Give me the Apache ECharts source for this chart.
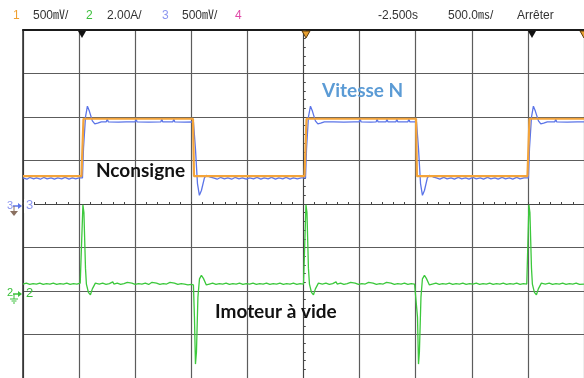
<!DOCTYPE html>
<html><head><meta charset="utf-8">
<script src="https://cdn.jsdelivr.net/npm/echarts@6/dist/echarts.min.js"></script>
<style>html,body{margin:0;padding:0;background:#fff}#c{width:584px;height:378px}</style>
</head><body><div id="c"></div>
<script>
// Time axis: 500 ms/div, delay -2.500 s -> screen spans -5.0 s .. 0 s
const timeRange = [-5, 0];
// Vertical axis in screen divisions, 0 = centre line
const divRange = [-4, 4];
// Horizontal graticule in divisions about the screen centre (for the centre tick rulers)
const hDivRange = [-5, 5];

const headerTexts = ['1', '500\u33B7/', '2', '2.00A/', '3', '500\u33B7/', '4', '-2.500s', '500.0\u33B3/', 'Arr\u00EAter'];
const annotations = ['Vitesse N', 'Nconsigne', 'Imoteur \u00E0 vide'];
const channelMarks = ['3', '2'];

// Channel 1 (orange) : speed set-point Nconsigne  [s, div]
const orangeTrace = [
  [-5.000,0.64],[-4.479,0.64],[-4.461,1.96],[-3.485,1.96],[-3.476,0.64],
  [-2.491,0.64],[-2.473,1.96],[-1.497,1.96],[-1.489,0.64],
  [-0.504,0.64],[-0.486,1.96],[0.000,1.96]
];

// Channel 3 (blue) : measured speed N  [s, div]
const blueTrace = [
  [-5.000,0.60],[-4.965,0.57],[-4.940,0.61],[-4.905,0.58],[-4.880,0.60],[-4.845,0.57],[-4.815,0.61],[-4.785,0.58],
  [-4.750,0.60],[-4.720,0.57],[-4.690,0.60],[-4.655,0.58],[-4.625,0.61],[-4.590,0.57],[-4.560,0.60],[-4.530,0.58],
  [-4.500,0.60],[-4.470,0.60],
  [-4.461,1.27],[-4.443,2.00],[-4.426,2.25],[-4.408,2.13],[-4.382,1.91],[-4.360,1.84],[-4.335,1.86],[-4.302,1.89],
  [-4.258,1.89],[-4.249,1.95],[-4.240,1.89],[-4.150,1.88],[-4.080,1.89],[-4.000,1.89],[-3.992,1.95],[-3.984,1.89],
  [-3.880,1.88],[-3.771,1.89],[-3.763,1.95],[-3.755,1.89],[-3.664,1.89],[-3.656,1.95],[-3.648,1.89],[-3.560,1.88],
  [-3.481,1.89],
  [-3.463,1.27],[-3.445,0.47],[-3.428,0.20],[-3.410,0.31],[-3.383,0.60],[-3.366,0.66],[-3.330,0.62],[-3.304,0.60],
  [-3.270,0.57],[-3.240,0.61],[-3.205,0.58],[-3.175,0.60],[-3.140,0.57],[-3.110,0.61],[-3.075,0.58],[-3.045,0.60],
  [-3.010,0.57],[-2.980,0.60],[-2.945,0.58],[-2.915,0.61],[-2.880,0.57],[-2.850,0.60],[-2.815,0.58],[-2.785,0.61],
  [-2.750,0.57],[-2.720,0.60],[-2.685,0.58],[-2.655,0.61],[-2.620,0.57],[-2.590,0.60],[-2.555,0.58],[-2.520,0.60],
  [-2.482,0.60],
  [-2.473,1.27],[-2.456,2.00],[-2.438,2.25],[-2.420,2.13],[-2.394,1.91],[-2.372,1.84],[-2.347,1.86],[-2.314,1.89],
  [-2.230,1.89],[-2.140,1.88],[-2.050,1.89],[-2.003,1.89],[-1.995,1.95],[-1.987,1.89],[-1.900,1.88],[-1.852,1.89],
  [-1.844,1.95],[-1.836,1.89],[-1.764,1.89],[-1.756,1.95],[-1.748,1.89],[-1.676,1.89],[-1.668,1.95],[-1.660,1.89],
  [-1.569,1.89],[-1.561,1.95],[-1.553,1.89],[-1.493,1.89],
  [-1.475,1.27],[-1.457,0.47],[-1.440,0.20],[-1.422,0.31],[-1.396,0.60],[-1.378,0.66],[-1.343,0.62],[-1.316,0.60],
  [-1.285,0.57],[-1.250,0.61],[-1.220,0.58],[-1.185,0.60],[-1.155,0.57],[-1.120,0.61],[-1.090,0.58],[-1.055,0.60],
  [-1.025,0.57],[-0.990,0.61],[-0.960,0.58],[-0.925,0.60],[-0.895,0.57],[-0.860,0.61],[-0.830,0.58],[-0.795,0.60],
  [-0.765,0.57],[-0.730,0.61],[-0.700,0.58],[-0.665,0.60],[-0.635,0.57],[-0.600,0.61],[-0.570,0.58],[-0.535,0.60],
  [-0.495,0.60],
  [-0.486,1.27],[-0.468,2.00],[-0.451,2.25],[-0.433,2.13],[-0.406,1.91],[-0.385,1.84],[-0.360,1.86],[-0.327,1.89],
  [-0.260,1.89],[-0.252,1.95],[-0.244,1.89],[-0.150,1.88],[-0.060,1.89],[0.000,1.89]
];

// Channel 2 (green) : motor current Imoteur (no load)  [s, div]
const greenTrace = [
  [-5.000,-1.84],[-4.970,-1.82],[-4.940,-1.85],[-4.910,-1.83],[-4.880,-1.84],[-4.850,-1.82],[-4.820,-1.85],[-4.790,-1.83],
  [-4.760,-1.84],[-4.730,-1.82],[-4.700,-1.85],[-4.670,-1.83],[-4.640,-1.84],[-4.610,-1.82],[-4.580,-1.85],[-4.550,-1.83],
  [-4.520,-1.84],[-4.490,-1.82],[-4.474,-1.84],
  [-4.466,-0.02],[-4.457,-0.20],[-4.443,-1.48],[-4.435,-1.84],[-4.417,-2.03],[-4.399,-2.09],[-4.382,-1.95],[-4.355,-1.82],[-4.320,-1.84],
  [-4.290,-1.82],[-4.260,-1.85],[-4.230,-1.83],[-4.200,-1.79],[-4.190,-1.84],[-4.160,-1.82],[-4.130,-1.85],[-4.100,-1.83],
  [-4.070,-1.80],[-4.060,-1.84],[-4.030,-1.82],[-4.000,-1.85],[-3.970,-1.83],[-3.940,-1.84],[-3.910,-1.82],[-3.880,-1.85],
  [-3.850,-1.80],[-3.840,-1.84],[-3.810,-1.82],[-3.780,-1.85],[-3.750,-1.83],[-3.720,-1.84],[-3.690,-1.80],[-3.680,-1.84],
  [-3.650,-1.82],[-3.620,-1.85],[-3.590,-1.83],[-3.560,-1.84],[-3.530,-1.86],[-3.500,-1.85],[-3.481,-1.86],
  [-3.472,-2.60],[-3.463,-3.68],[-3.454,-3.40],[-3.441,-2.14],[-3.427,-1.72],[-3.410,-1.64],[-3.392,-1.71],[-3.366,-1.86],[-3.339,-1.84],
  [-3.310,-1.82],[-3.280,-1.85],[-3.250,-1.83],[-3.220,-1.84],[-3.190,-1.82],[-3.160,-1.85],[-3.130,-1.83],[-3.100,-1.84],
  [-3.070,-1.82],[-3.040,-1.85],[-3.010,-1.83],[-2.980,-1.84],[-2.950,-1.82],[-2.920,-1.85],[-2.890,-1.83],[-2.860,-1.84],
  [-2.830,-1.82],[-2.800,-1.85],[-2.770,-1.83],[-2.740,-1.84],[-2.710,-1.82],[-2.680,-1.85],[-2.650,-1.83],[-2.620,-1.84],
  [-2.590,-1.82],[-2.560,-1.85],[-2.530,-1.83],[-2.500,-1.84],[-2.486,-1.84],
  [-2.478,-0.02],[-2.469,-0.20],[-2.456,-1.48],[-2.447,-1.84],[-2.429,-2.03],[-2.411,-2.09],[-2.394,-1.95],[-2.367,-1.82],[-2.332,-1.84],
  [-2.300,-1.82],[-2.270,-1.85],[-2.240,-1.83],[-2.210,-1.79],[-2.200,-1.84],[-2.170,-1.82],[-2.140,-1.85],[-2.110,-1.83],
  [-2.080,-1.80],[-2.070,-1.84],[-2.040,-1.82],[-2.010,-1.85],[-1.980,-1.83],[-1.950,-1.84],[-1.920,-1.80],[-1.910,-1.84],
  [-1.880,-1.82],[-1.850,-1.85],[-1.820,-1.83],[-1.790,-1.84],[-1.760,-1.80],[-1.750,-1.84],[-1.720,-1.82],[-1.690,-1.85],
  [-1.660,-1.83],[-1.630,-1.84],[-1.600,-1.82],[-1.570,-1.85],[-1.540,-1.83],[-1.510,-1.84],[-1.493,-1.84],
  [-1.484,-2.60],[-1.475,-3.68],[-1.467,-3.40],[-1.453,-2.14],[-1.440,-1.72],[-1.422,-1.64],[-1.405,-1.71],[-1.378,-1.86],[-1.352,-1.84],
  [-1.320,-1.82],[-1.290,-1.85],[-1.260,-1.83],[-1.230,-1.84],[-1.200,-1.82],[-1.170,-1.85],[-1.140,-1.83],[-1.110,-1.84],
  [-1.080,-1.82],[-1.050,-1.85],[-1.020,-1.83],[-0.990,-1.84],[-0.960,-1.82],[-0.930,-1.85],[-0.900,-1.83],[-0.870,-1.84],
  [-0.840,-1.82],[-0.810,-1.85],[-0.780,-1.83],[-0.750,-1.84],[-0.720,-1.82],[-0.690,-1.85],[-0.660,-1.83],[-0.630,-1.84],
  [-0.600,-1.82],[-0.570,-1.85],[-0.540,-1.83],[-0.510,-1.84],[-0.499,-1.84],
  [-0.491,-0.02],[-0.482,-0.20],[-0.468,-1.48],[-0.460,-1.84],[-0.442,-2.03],[-0.424,-2.09],[-0.407,-1.95],[-0.380,-1.82],[-0.345,-1.84],
  [-0.310,-1.82],[-0.280,-1.85],[-0.250,-1.83],[-0.220,-1.84],[-0.190,-1.82],[-0.160,-1.85],[-0.130,-1.83],[-0.100,-1.84],
  [-0.070,-1.82],[-0.040,-1.85],[0.000,-1.84]
];

const chart = echarts.init(document.getElementById('c'), null, {renderer: 'canvas'});

const GRID = {left: 23, top: 30, width: 566, height: 352};
const gridCol = '#5c5c5c';
const hdrFont = "'Liberation Sans', 'DejaVu Sans', 'Noto Sans CJK SC', sans-serif";
const annFont = "Lato, 'Open Sans', sans-serif";
const rulerCol = '#444';

function ruler(dim, inside) {
  const range = dim === 'x' ? hDivRange : divRange;
  return {
    type: 'value', gridIndex: 1, min: range[0], max: range[1], interval: 1,
    axisLine: {show: true, onZero: true, lineStyle: {color: rulerCol, width: 1}},
    axisTick: {show: true, inside: inside, length: 2, lineStyle: {color: rulerCol}},
    minorTick: {show: true, splitNumber: 5, length: 2, lineStyle: {color: rulerCol}},
    axisLabel: {show: false}, splitLine: {show: false}
  };
}

const hdrColors = ['#f0a030', '#333', '#3cc03c', '#333', '#8c96f0', '#333', '#e04aa8', '#333', '#333', '#333'];
const hdrX = [13, 33, 86, 107, 162, 182, 235, 378, 448, 517];
const headerGraphics = headerTexts.map((t, i) => ({
  type: 'text', left: hdrX[i], top: 10,
  style: {text: t, fill: hdrColors[i], font: '12px ' + hdrFont}
}));

const annPos = [[322, 81, '#5b9bd5'], [96, 161, '#111'], [215, 302, '#111']];
const annGraphics = annotations.map((t, i) => ({
  type: 'text', left: annPos[i][0], top: annPos[i][1], z: 20,
  style: {text: t, fill: annPos[i][2], font: 'bold 19px ' + annFont}
}));

const markerGraphics = [
  {type: 'polygon', shape: {points: [[78, 31], [86, 31], [82, 38]]}, style: {fill: '#111'}, z: 30},
  {type: 'polygon', shape: {points: [[302, 31], [310, 31], [306, 38]]}, style: {fill: '#e8a030', stroke: '#5a3c10', lineWidth: 1}, z: 30},
  {type: 'polygon', shape: {points: [[528, 31], [536, 31], [532, 38]]}, style: {fill: '#111'}, z: 30},
  {type: 'polygon', shape: {points: [[580, 31], [588, 31], [584, 38]]}, style: {fill: '#e8a030', stroke: '#5a3c10', lineWidth: 1}, z: 30},
  {type: 'rect', shape: {x: 5, y: 199, width: 17, height: 20}, style: {fill: '#fff'}, z: 29},
  {type: 'text', left: 7, top: 200, style: {text: channelMarks[0], fill: '#8c96f0', font: '11px ' + hdrFont}, z: 30},
  {type: 'line', shape: {x1: 13, y1: 206, x2: 19, y2: 206}, style: {stroke: '#5b74e8', lineWidth: 1.5}, z: 30},
  {type: 'polygon', shape: {points: [[18, 203], [22, 206], [18, 209]]}, style: {fill: '#5b74e8'}, z: 30},
  {type: 'line', shape: {x1: 14, y1: 206, x2: 14, y2: 211}, style: {stroke: '#8a7060', lineWidth: 1}, z: 30},
  {type: 'polygon', shape: {points: [[10, 211], [18, 211], [14, 216]]}, style: {fill: '#8a7060'}, z: 30},
  {type: 'rect', shape: {x: 24, y: 199, width: 10, height: 14}, style: {fill: '#fff'}, z: 29},
  {type: 'text', left: 26, top: 199, style: {text: channelMarks[0], fill: '#8c96f0', font: '13px ' + hdrFont}, z: 30},
  {type: 'text', left: 7, top: 287, style: {text: channelMarks[1], fill: '#3cc03c', font: '11px ' + hdrFont}, z: 30},
  {type: 'line', shape: {x1: 13, y1: 294, x2: 19, y2: 294}, style: {stroke: '#3cc03c', lineWidth: 1.5}, z: 30},
  {type: 'polygon', shape: {points: [[18, 291], [22, 294], [18, 297]]}, style: {fill: '#3cc03c'}, z: 30},
  {type: 'line', shape: {x1: 14, y1: 294, x2: 14, y2: 299}, style: {stroke: '#3cc03c', lineWidth: 1}, z: 30},
  {type: 'line', shape: {x1: 10, y1: 299, x2: 18, y2: 299}, style: {stroke: '#3cc03c', lineWidth: 1}, z: 30},
  {type: 'line', shape: {x1: 11.5, y1: 301, x2: 16.5, y2: 301}, style: {stroke: '#3cc03c', lineWidth: 1}, z: 30},
  {type: 'line', shape: {x1: 13, y1: 303, x2: 15, y2: 303}, style: {stroke: '#3cc03c', lineWidth: 1}, z: 30},
  {type: 'text', left: 26, top: 287, style: {text: channelMarks[1], fill: '#3cc03c', font: '13px ' + hdrFont}, z: 30}
];

chart.setOption({
  animation: false,
  backgroundColor: '#fff',
  grid: [GRID, Object.assign({}, GRID)],
  xAxis: [
    {
      type: 'value', gridIndex: 0, min: timeRange[0], max: timeRange[1], interval: 0.5, position: 'top',
      axisLine: {show: true, onZero: false, lineStyle: {color: '#1a1a1a', width: 2}},
      axisTick: {show: false}, axisLabel: {show: false},
      splitLine: {show: true, lineStyle: {color: gridCol, width: 1.2}}
    },
    ruler('x', true), ruler('x', false)
  ],
  yAxis: [
    {
      type: 'value', gridIndex: 0, min: divRange[0], max: divRange[1], interval: 1, position: 'left',
      axisLine: {show: true, onZero: false, lineStyle: {color: '#2a2a2a', width: 1.5}},
      axisTick: {show: false}, axisLabel: {show: false},
      splitLine: {show: true, lineStyle: {color: gridCol, width: 1.2}}
    },
    ruler('y', true), ruler('y', false)
  ],
  series: [
    {type: 'line', name: 'Imoteur', data: greenTrace, showSymbol: false, silent: true,
     lineStyle: {color: '#3cc83c', width: 1.3}, z: 3},
    {type: 'line', name: 'Vitesse N', data: blueTrace, showSymbol: false, silent: true,
     lineStyle: {color: '#5b74e8', width: 1.3}, z: 4},
    {type: 'line', name: 'Nconsigne', data: orangeTrace, showSymbol: false, silent: true,
     lineStyle: {color: '#f4a43a', width: 2.2}, z: 5}
  ],
  graphic: headerGraphics.concat(annGraphics, markerGraphics)
});
</script>
</body></html>
